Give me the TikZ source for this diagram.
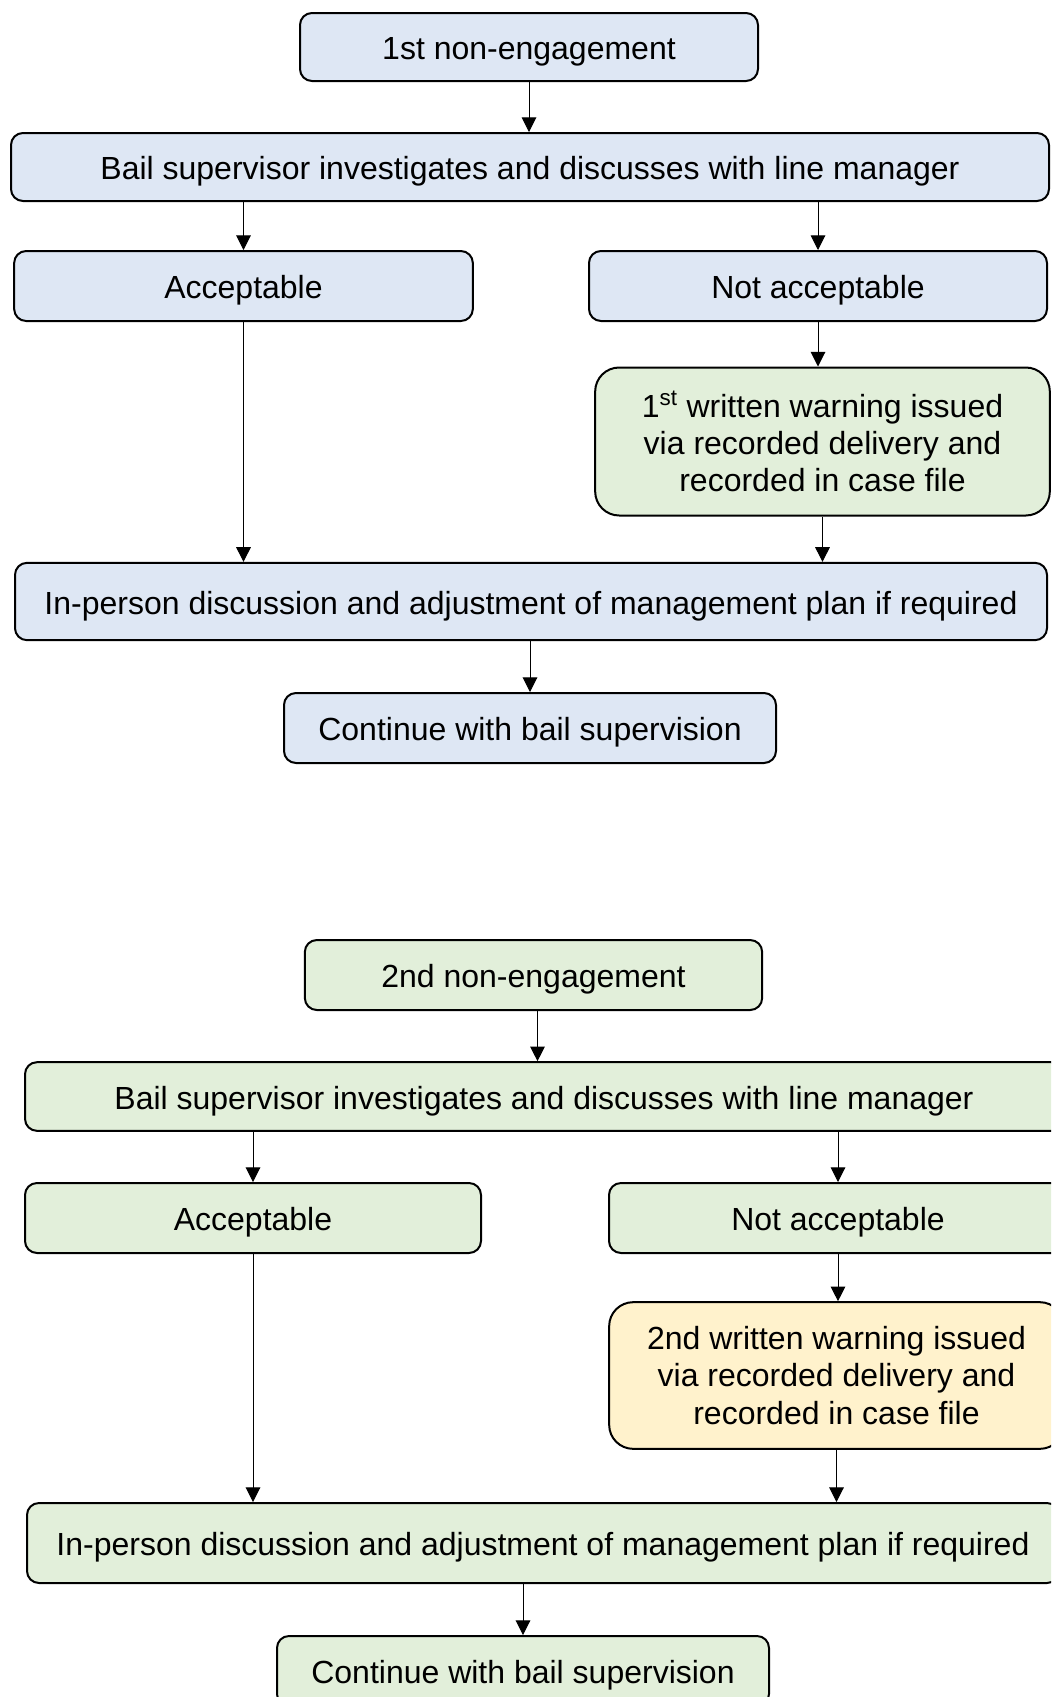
\documentclass[tikz,border=0pt]{standalone}
\usepackage{fontspec}
\setmainfont{Liberation Sans}
\usepackage{xcolor}
\usetikzlibrary{arrows.meta}
\definecolor{paleblue}{HTML}{DEE7F4}
\definecolor{palegreen}{HTML}{E2EFDA}
\definecolor{paleyellow}{HTML}{FFF2CC}
\tikzset{box/.style={draw=black, line width=1.5pt, rounded corners=9pt, align=center,
   inner sep=0pt, font=\fontsize{24}{28}\selectfont, text height=24pt, text depth=5pt},
 bluebox/.style={box, fill=paleblue},
 greenbox/.style={box, fill=palegreen},
 yellowbox/.style={box, fill=paleyellow},
 warnbox/.style={rounded corners=18pt, text height={}, text depth={}},
 link/.style={draw, line width=0.75pt, -{Triangle[length=11pt,width=11pt]}},
 }

\begin{document}
\begin{tikzpicture}[x=0.75pt, y=-0.75pt]
        \clip (0, 0) rectangle (1051, 1697);
        \node[bluebox, minimum width=343.5pt, minimum height=51pt] (first1) at (529, 47) {1st non-engagement};
        \node[bluebox, minimum width=778.5pt, minimum height=51pt] (bail1) at (530, 167) {Bail supervisor investigates and discusses with line manager};
        \node[bluebox, minimum width=344pt, minimum height=52.5pt] (acc1) at (243.5, 286) {Acceptable};
        \node[bluebox, minimum width=343.5pt, minimum height=52.5pt] (nacc1) at (818, 286) {Not acceptable};
        \node[greenbox, warnbox, minimum width=341pt, minimum height=111pt] (warn1) at (822.5, 441.5) {1\textsuperscript{st} written warning issued\\via recorded delivery and\\recorded in case file};
        \node[bluebox, minimum width=774pt, minimum height=58pt] (inp1) at (531, 601.5) {In-person discussion and adjustment of management plan if required};
        \node[bluebox, minimum width=369pt, minimum height=52.5pt] (cont1) at (530, 728) {Continue with bail supervision};

        \node[greenbox, minimum width=343pt, minimum height=52.5pt] (first2) at (533.5, 975) {2nd non-engagement};
        \node[greenbox, minimum width=778.5pt, minimum height=51.5pt] (bail2) at (544, 1096.5) {Bail supervisor investigates and discusses with line manager};
        \node[greenbox, minimum width=342pt, minimum height=52.5pt] (acc2) at (253, 1218) {Acceptable};
        \node[greenbox, minimum width=343.5pt, minimum height=52.5pt] (nacc2) at (838, 1218) {Not acceptable};
        \node[yellowbox, warnbox, minimum width=341pt, minimum height=110pt] (warn2) at (836.5, 1375.5) {2nd written warning issued\\via recorded delivery and\\recorded in case file};
        \node[greenbox, minimum width=774pt, minimum height=60pt] (inp2) at (543, 1543) {In-person discussion and adjustment of management plan if required};
        \node[greenbox, minimum width=369pt, minimum height=52.5pt] (cont2) at (523, 1671) {Continue with bail supervision};

        \draw[link] (first1.south) -- (first1.south |- bail1.north);
        \draw[link] (acc1.north |- bail1.south) -- (acc1.north);
        \draw[link] (nacc1.north |- bail1.south) -- (nacc1.north);
        \draw[link] (nacc1.south) -- (nacc1.south |- warn1.north);
        \draw[link] (acc1.south) -- (acc1.south |- inp1.north);
        \draw[link] (warn1.south) -- (warn1.south |- inp1.north);
        \draw[link] (cont1.north |- inp1.south) -- (cont1.north);

        \draw[link] ([xshift=3pt]first2.south) -- ([xshift=3pt]first2.south |- bail2.north);
        \draw[link] (acc2.north |- bail2.south) -- (acc2.north);
        \draw[link] (nacc2.north |- bail2.south) -- (nacc2.north);
        \draw[link] (nacc2.south) -- (nacc2.south |- warn2.north);
        \draw[link] (acc2.south) -- (acc2.south |- inp2.north);
        \draw[link] (warn2.south) -- (warn2.south |- inp2.north);
        \draw[link] (cont2.north |- inp2.south) -- (cont2.north);
    \end{tikzpicture}
\end{document}
